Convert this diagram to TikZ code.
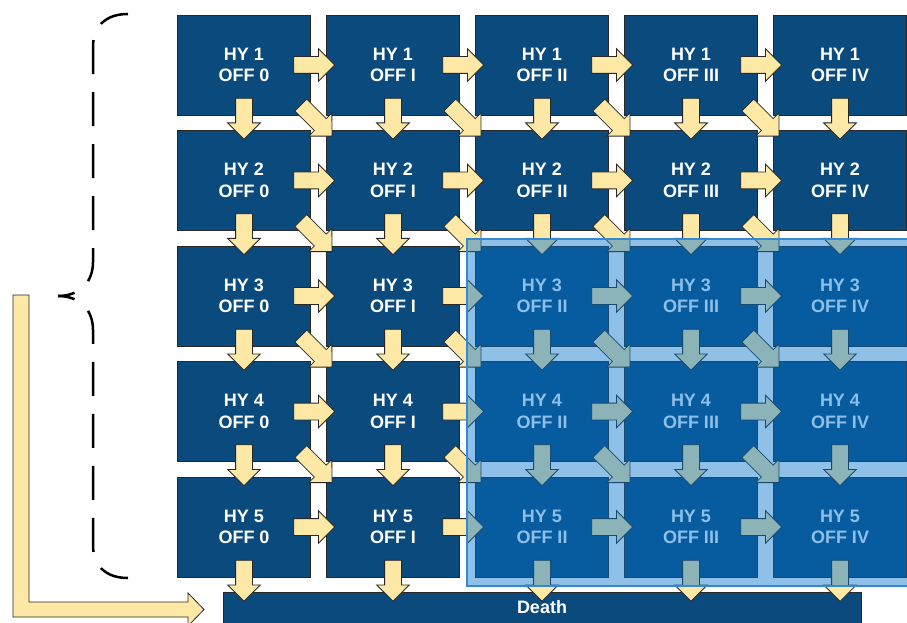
\documentclass[tikz,border=0pt]{standalone}
\usepackage{fontspec}
\setmainfont{Liberation Sans}
\usetikzlibrary{shapes.arrows,calc}
\definecolor{boxblue}{RGB}{11,74,125}
\definecolor{arrowyellow}{RGB}{253,232,166}
\definecolor{edgegray}{RGB}{40,40,40}
\definecolor{shadeblue}{RGB}{4,115,204}
\definecolor{shadeedge}{RGB}{52,136,212}

\begin{document}
\begin{tikzpicture}[x=1pt,y=1pt,
		state/.style={rectangle,fill=boxblue,draw=edgegray,line width=0.8pt,minimum width=133pt,minimum height=100pt,inner sep=0pt,align=center,text=white,font=\bfseries\fontsize{18}{21.5}\selectfont},
		move/.style={single arrow,fill=arrowyellow,draw=edgegray,line width=0.8pt,inner sep=8pt,single arrow head extend=8pt,minimum height=41pt,anchor=tail}]
		\useasboundingbox (0,0) rectangle (907,622);
		\clip (0,0) rectangle (907,622);
		
		% estats
		\foreach \r in {1,...,5}
		\foreach \c/\off in {1/0,2/I,3/II,4/III,5/IV}
		\node[state] (b\r\c) at ({244+149*(\c-1)},{557-115.5*(\r-1)}) {HY \r\\OFF \off};
		
		\node[state,minimum width=638pt,minimum height=31pt] (death) at (542,14.5) {Death};
		
		% fletxes dins la graella
		\foreach \r in {1,...,5}
		\foreach \c in {1,...,4}
		\node[move] (h\r\c) at ($(b\r\c.east)+(-17.5,0)$) {};
		
		\foreach \r in {1,...,4}
		\foreach \c in {1,...,5}
		\node[move,rotate=-90] (v\r\c) at ($(b\r\c.south)+(0,17.5)$) {};
		
		\foreach \r in {1,...,4}
		\foreach \c in {1,...,4}{
			\pgfmathtruncatemacro\rn{\r+1}
			\pgfmathtruncatemacro\cn{\c+1}
			\node[move,rotate=-45,minimum height=44pt] (g\r\c) at ($(b\r\c.south east)!0.5!(b\rn\cn.north west)+(-18,18)$) {};
		}
		
		% cap a la mort
		\foreach \c in {1,...,5}
		\node[move,rotate=-90] (e\c) at ($(b5\c.south)+(0,17.5)$) {};
		
		% zona ombrejada
		\fill[shadeblue,fill opacity=0.45] (467,383) rectangle (912,36);
		\draw[shadeedge,line width=1.2pt] (467,383) rectangle (912,36);
		
		% fletxa lateral
		\filldraw[fill=arrowyellow,draw=edgegray,line width=0.8pt] (13,327) -- (29,327) -- (29,20) -- (188,20) -- (188,29) -- (204,12.5) -- (188,-4) -- (188,5) -- (13,5) -- cycle;
		
		% clau
		\draw[line width=2.5pt,dash pattern=on 34pt off 18pt,dash phase=17pt] (58,326) .. controls (80,326) and (93,340) .. (93,360) -- (93,575) .. controls (93,595) and (105,608) .. (128,608);
		\draw[line width=2.5pt,dash pattern=on 34pt off 18pt,dash phase=17pt] (58,326) .. controls (80,326) and (93,312) .. (93,292) -- (93,77) .. controls (93,57) and (105,44) .. (128,44);
	\end{tikzpicture}
\end{document}
